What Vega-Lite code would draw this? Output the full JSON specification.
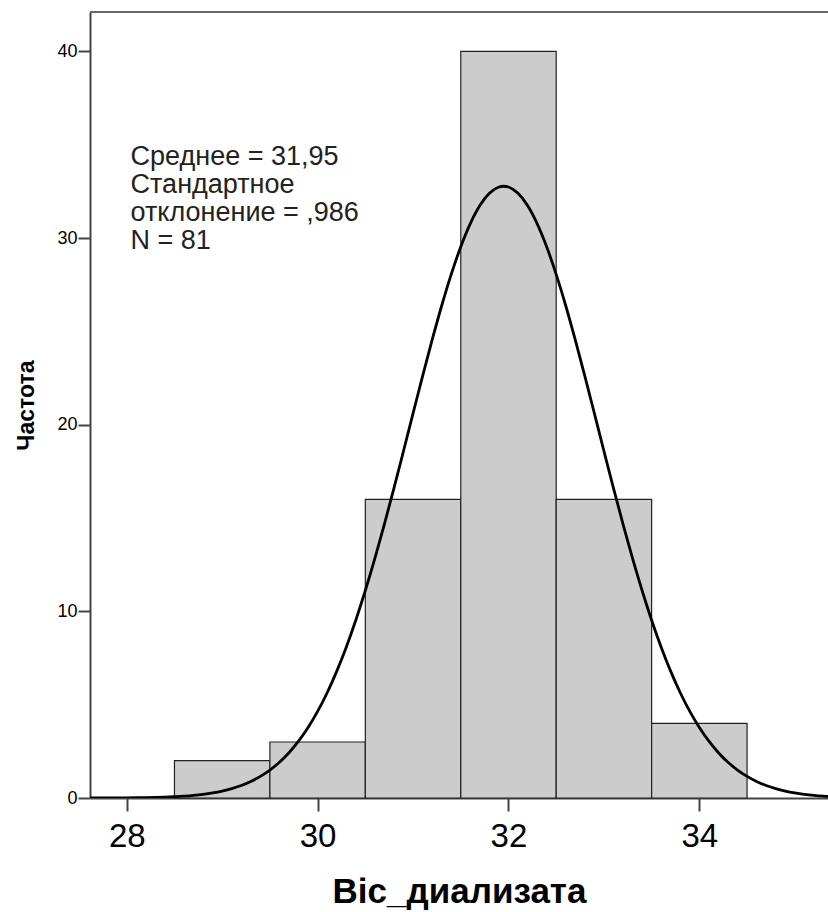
{
  "$schema": "https://vega.github.io/schema/vega-lite/v6.json",
  "width": 738,
  "height": 786,
  "autosize": "none",
  "padding": {"left": 90, "top": 12, "right": 0, "bottom": 114},
  "background": "white",
  "config": {
    "view": {"stroke": null},
    "font": "Liberation Sans",
    "axis": {
      "grid": false,
      "domainColor": "#444444",
      "domainWidth": 2,
      "tickColor": "#444444",
      "tickWidth": 2,
      "labelColor": "#000000",
      "titleColor": "#000000",
      "labelFont": "Liberation Sans",
      "titleFont": "Liberation Sans",
      "titleFontWeight": "bold"
    }
  },
  "layer": [
    {
      "data": {"values": [
        {"bin_start": 28.5, "bin_end": 29.5, "count": 2},
        {"bin_start": 29.5, "bin_end": 30.5, "count": 3},
        {"bin_start": 30.5, "bin_end": 31.5, "count": 16},
        {"bin_start": 31.5, "bin_end": 32.5, "count": 40},
        {"bin_start": 32.5, "bin_end": 33.5, "count": 16},
        {"bin_start": 33.5, "bin_end": 34.5, "count": 4}
      ]},
      "mark": {"type": "rect", "fill": "#cccccc", "stroke": "#222222", "strokeWidth": 1.2},
      "encoding": {
        "x": {
          "field": "bin_start",
          "type": "quantitative",
          "scale": {"domain": [27.615, 35.348], "nice": false, "zero": false},
          "axis": {
            "title": "Віс_диализата",
            "values": [28, 30, 32, 34],
            "format": "d",
            "labelFontSize": 33,
            "tickSize": 13,
            "labelPadding": 9,
            "titleFontSize": 35,
            "titlePadding": 21
          }
        },
        "x2": {"field": "bin_end"},
        "y": {
          "field": "count",
          "type": "quantitative",
          "scale": {"domain": [0, 42.11], "nice": false},
          "axis": {
            "title": "Частота",
            "values": [0, 10, 20, 30, 40],
            "format": "d",
            "labelFontSize": 18,
            "tickSize": 12,
            "labelPadding": 1,
            "titleFontSize": 23,
            "titlePadding": 18
          }
        },
        "y2": {"datum": 0}
      }
    },
    {
      "data": {"values": [
        {"x": 27.6, "y": 0.002}, {"x": 27.7, "y": 0.003}, {"x": 27.8, "y": 0.005}, {"x": 27.9, "y": 0.007},
        {"x": 28.0, "y": 0.011}, {"x": 28.1, "y": 0.016}, {"x": 28.2, "y": 0.023}, {"x": 28.3, "y": 0.035},
        {"x": 28.4, "y": 0.050}, {"x": 28.5, "y": 0.072}, {"x": 28.6, "y": 0.102}, {"x": 28.7, "y": 0.143},
        {"x": 28.8, "y": 0.199}, {"x": 28.9, "y": 0.274}, {"x": 29.0, "y": 0.373}, {"x": 29.1, "y": 0.503},
        {"x": 29.2, "y": 0.671}, {"x": 29.3, "y": 0.885}, {"x": 29.4, "y": 1.157}, {"x": 29.5, "y": 1.496},
        {"x": 29.6, "y": 1.914}, {"x": 29.7, "y": 2.425}, {"x": 29.8, "y": 3.042}, {"x": 29.9, "y": 3.775},
        {"x": 30.0, "y": 4.637}, {"x": 30.1, "y": 5.638}, {"x": 30.2, "y": 6.785}, {"x": 30.3, "y": 8.081},
        {"x": 30.4, "y": 9.526}, {"x": 30.5, "y": 11.116}, {"x": 30.6, "y": 12.837}, {"x": 30.7, "y": 14.674},
        {"x": 30.8, "y": 16.601}, {"x": 30.9, "y": 18.590}, {"x": 31.0, "y": 20.604}, {"x": 31.1, "y": 22.603},
        {"x": 31.2, "y": 24.541}, {"x": 31.3, "y": 26.373}, {"x": 31.4, "y": 28.052}, {"x": 31.5, "y": 29.532},
        {"x": 31.6, "y": 30.773}, {"x": 31.7, "y": 31.737}, {"x": 31.8, "y": 32.397}, {"x": 31.9, "y": 32.732},
        {"x": 31.95, "y": 32.774},
        {"x": 32.0, "y": 32.732}, {"x": 32.1, "y": 32.397}, {"x": 32.2, "y": 31.737}, {"x": 32.3, "y": 30.773},
        {"x": 32.4, "y": 29.532}, {"x": 32.5, "y": 28.052}, {"x": 32.6, "y": 26.373}, {"x": 32.7, "y": 24.541},
        {"x": 32.8, "y": 22.603}, {"x": 32.9, "y": 20.604}, {"x": 33.0, "y": 18.590}, {"x": 33.1, "y": 16.601},
        {"x": 33.2, "y": 14.674}, {"x": 33.3, "y": 12.837}, {"x": 33.4, "y": 11.116}, {"x": 33.5, "y": 9.526},
        {"x": 33.6, "y": 8.081}, {"x": 33.7, "y": 6.785}, {"x": 33.8, "y": 5.638}, {"x": 33.9, "y": 4.637},
        {"x": 34.0, "y": 3.775}, {"x": 34.1, "y": 3.042}, {"x": 34.2, "y": 2.425}, {"x": 34.3, "y": 1.914},
        {"x": 34.4, "y": 1.496}, {"x": 34.5, "y": 1.157}, {"x": 34.6, "y": 0.885}, {"x": 34.7, "y": 0.671},
        {"x": 34.8, "y": 0.503}, {"x": 34.9, "y": 0.373}, {"x": 35.0, "y": 0.274}, {"x": 35.1, "y": 0.199},
        {"x": 35.2, "y": 0.143}, {"x": 35.3, "y": 0.102}, {"x": 35.4, "y": 0.072}
      ]},
      "mark": {"type": "line", "color": "#000000", "strokeWidth": 2.8, "interpolate": "monotone", "clip": true},
      "encoding": {
        "x": {"field": "x", "type": "quantitative"},
        "y": {"field": "y", "type": "quantitative"}
      }
    },
    {
      "data": {"values": [{}]},
      "mark": {"type": "rule", "color": "#666666", "strokeWidth": 2},
      "encoding": {"y": {"datum": 42.11}}
    },
    {
      "data": {"values": [
        {"label": ["Среднее = 31,95", "Стандартное", "отклонение = ,986", "N = 81"]}
      ]},
      "mark": {"type": "text", "align": "left", "baseline": "alphabetic", "fontSize": 27, "lineHeight": 28, "font": "Liberation Sans", "color": "#222222"},
      "encoding": {
        "x": {"datum": 28.04},
        "y": {"datum": 33.89},
        "text": {"field": "label"}
      }
    }
  ]
}
